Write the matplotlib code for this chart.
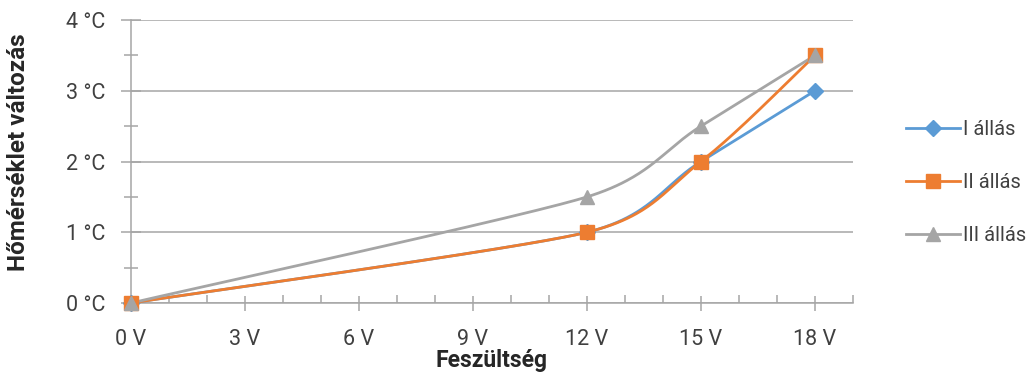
import numpy as np
import matplotlib
matplotlib.use("Agg")
import matplotlib.pyplot as plt
from matplotlib.ticker import MultipleLocator, FuncFormatter

plt.rcParams['font.family'] = ['Roboto', 'DejaVu Sans']

# measured points (voltage in V, temperature change in °C)
voltage = [0, 12, 15, 18]
series_names = ["I állás", "II állás", "III állás"]
temp_I = [0, 1, 2, 3]
temp_II = [0, 1, 2, 3.5]
temp_III = [0, 1.5, 2.5, 3.5]
x_ticks = [0, 3, 6, 9, 12, 15, 18]
y_ticks = [0, 1, 2, 3, 4]

colors = ["#5B9BD5", "#ED7D31", "#A5A5A5"]
markers = ["D", "s", "^"]
msizes = [8, 10, 10]
axis_gray = "#A6A6A6"
text_color = "#404040"
FS = 15.5


def smooth_curve(ax, xs, ys, n=80):
    """Bezier smoothing done in screen space, control arms capped at half
    the neighbouring segment length (spreadsheet-style smoothed line)."""
    pts = ax.transData.transform(np.column_stack([xs, ys]).astype(float))
    m = len(pts)
    arms_in, arms_out = [], []
    for i in range(m):
        prev_p = pts[i - 1] if i > 0 else pts[i]
        next_p = pts[i + 1] if i < m - 1 else pts[i]
        tang = next_p - prev_p
        tlen = np.hypot(*tang)
        limits = [tlen / 6]
        if i > 0:
            limits.append(np.hypot(*(pts[i] - pts[i - 1])) / 2)
        if i < m - 1:
            limits.append(np.hypot(*(pts[i + 1] - pts[i])) / 2)
        arm = tang / tlen * min(limits) if tlen > 0 else np.zeros(2)
        arms_in.append(pts[i] - arm)
        arms_out.append(pts[i] + arm)
    t = np.linspace(0, 1, n)[:, None]
    out = []
    for i in range(m - 1):
        p1, c1, c2, p2 = pts[i], arms_out[i], arms_in[i + 1], pts[i + 1]
        seg = (1 - t) ** 3 * p1 + 3 * (1 - t) ** 2 * t * c1 + 3 * (1 - t) * t ** 2 * c2 + t ** 3 * p2
        out.append(seg if i == 0 else seg[1:])
    curve = ax.transData.inverted().transform(np.vstack(out))
    return curve[:, 0], curve[:, 1]


fig = plt.figure(figsize=(10.32, 3.74), dpi=100)
ax = fig.add_axes([131 / 1032, 1 - 303 / 374, 722 / 1032, 283 / 374])
ax.set_xlim(0, 19)
ax.set_ylim(0, 4)

for name, ys, c, m, ms in zip(series_names, [temp_I, temp_II, temp_III], colors, markers, msizes):
    sx, sy = smooth_curve(ax, voltage, ys)
    ax.plot(sx, sy, color=c, lw=2, solid_capstyle='round', zorder=3, clip_on=False)
    ax.plot(voltage, ys, linestyle='none', marker=m, markersize=ms, color=c, zorder=4, clip_on=False)
    # legend proxy
    ax.plot([], [], color=c, lw=2, marker=m, markersize=ms, label=name)

ax.set_xticks(x_ticks)
ax.set_xticklabels([f"{v} V" for v in x_ticks])
ax.xaxis.set_minor_locator(MultipleLocator(1))
ax.set_yticks(y_ticks)
ax.yaxis.set_major_formatter(FuncFormatter(lambda v, p: f"{v:.0f} °C"))
ax.yaxis.set_minor_locator(MultipleLocator(0.5))

ax.grid(axis='y', which='major', color=axis_gray, lw=1.1)
ax.set_axisbelow(True)
for s in ["top", "right"]:
    ax.spines[s].set_visible(False)
for s in ["left", "bottom"]:
    ax.spines[s].set_color(axis_gray)
    ax.spines[s].set_linewidth(1.1)

ax.tick_params(axis='x', which='major', direction='inout', length=10.8, width=1.1,
               color=axis_gray, labelsize=FS, labelcolor=text_color, pad=13.5)
ax.tick_params(axis='x', which='minor', direction='in', length=6, width=1.1, color=axis_gray)
ax.tick_params(axis='y', which='major', direction='inout', length=13.7, width=1.1,
               color=axis_gray, labelsize=FS, labelcolor=text_color, pad=11.5)
ax.tick_params(axis='y', which='minor', direction='inout', length=9.4, width=1.1, color=axis_gray)

ax.set_xlabel("Feszültség", fontsize=16.5, fontweight='bold', color="#262626")
ax.xaxis.set_label_coords(0.499, -0.162)
ax.set_ylabel("Hőmérséklet változás", fontsize=17.5, fontweight='bold', color="#262626")
ax.yaxis.set_label_coords(-0.140, 0.534)

leg = ax.legend(loc='center left', bbox_to_anchor=(0.8605, 0.512), bbox_transform=fig.transFigure,
                frameon=False, fontsize=14.5, handlelength=2.68, labelspacing=1.69,
                handletextpad=0.15, labelcolor=text_color)

fig.savefig("out.png", dpi=100)
